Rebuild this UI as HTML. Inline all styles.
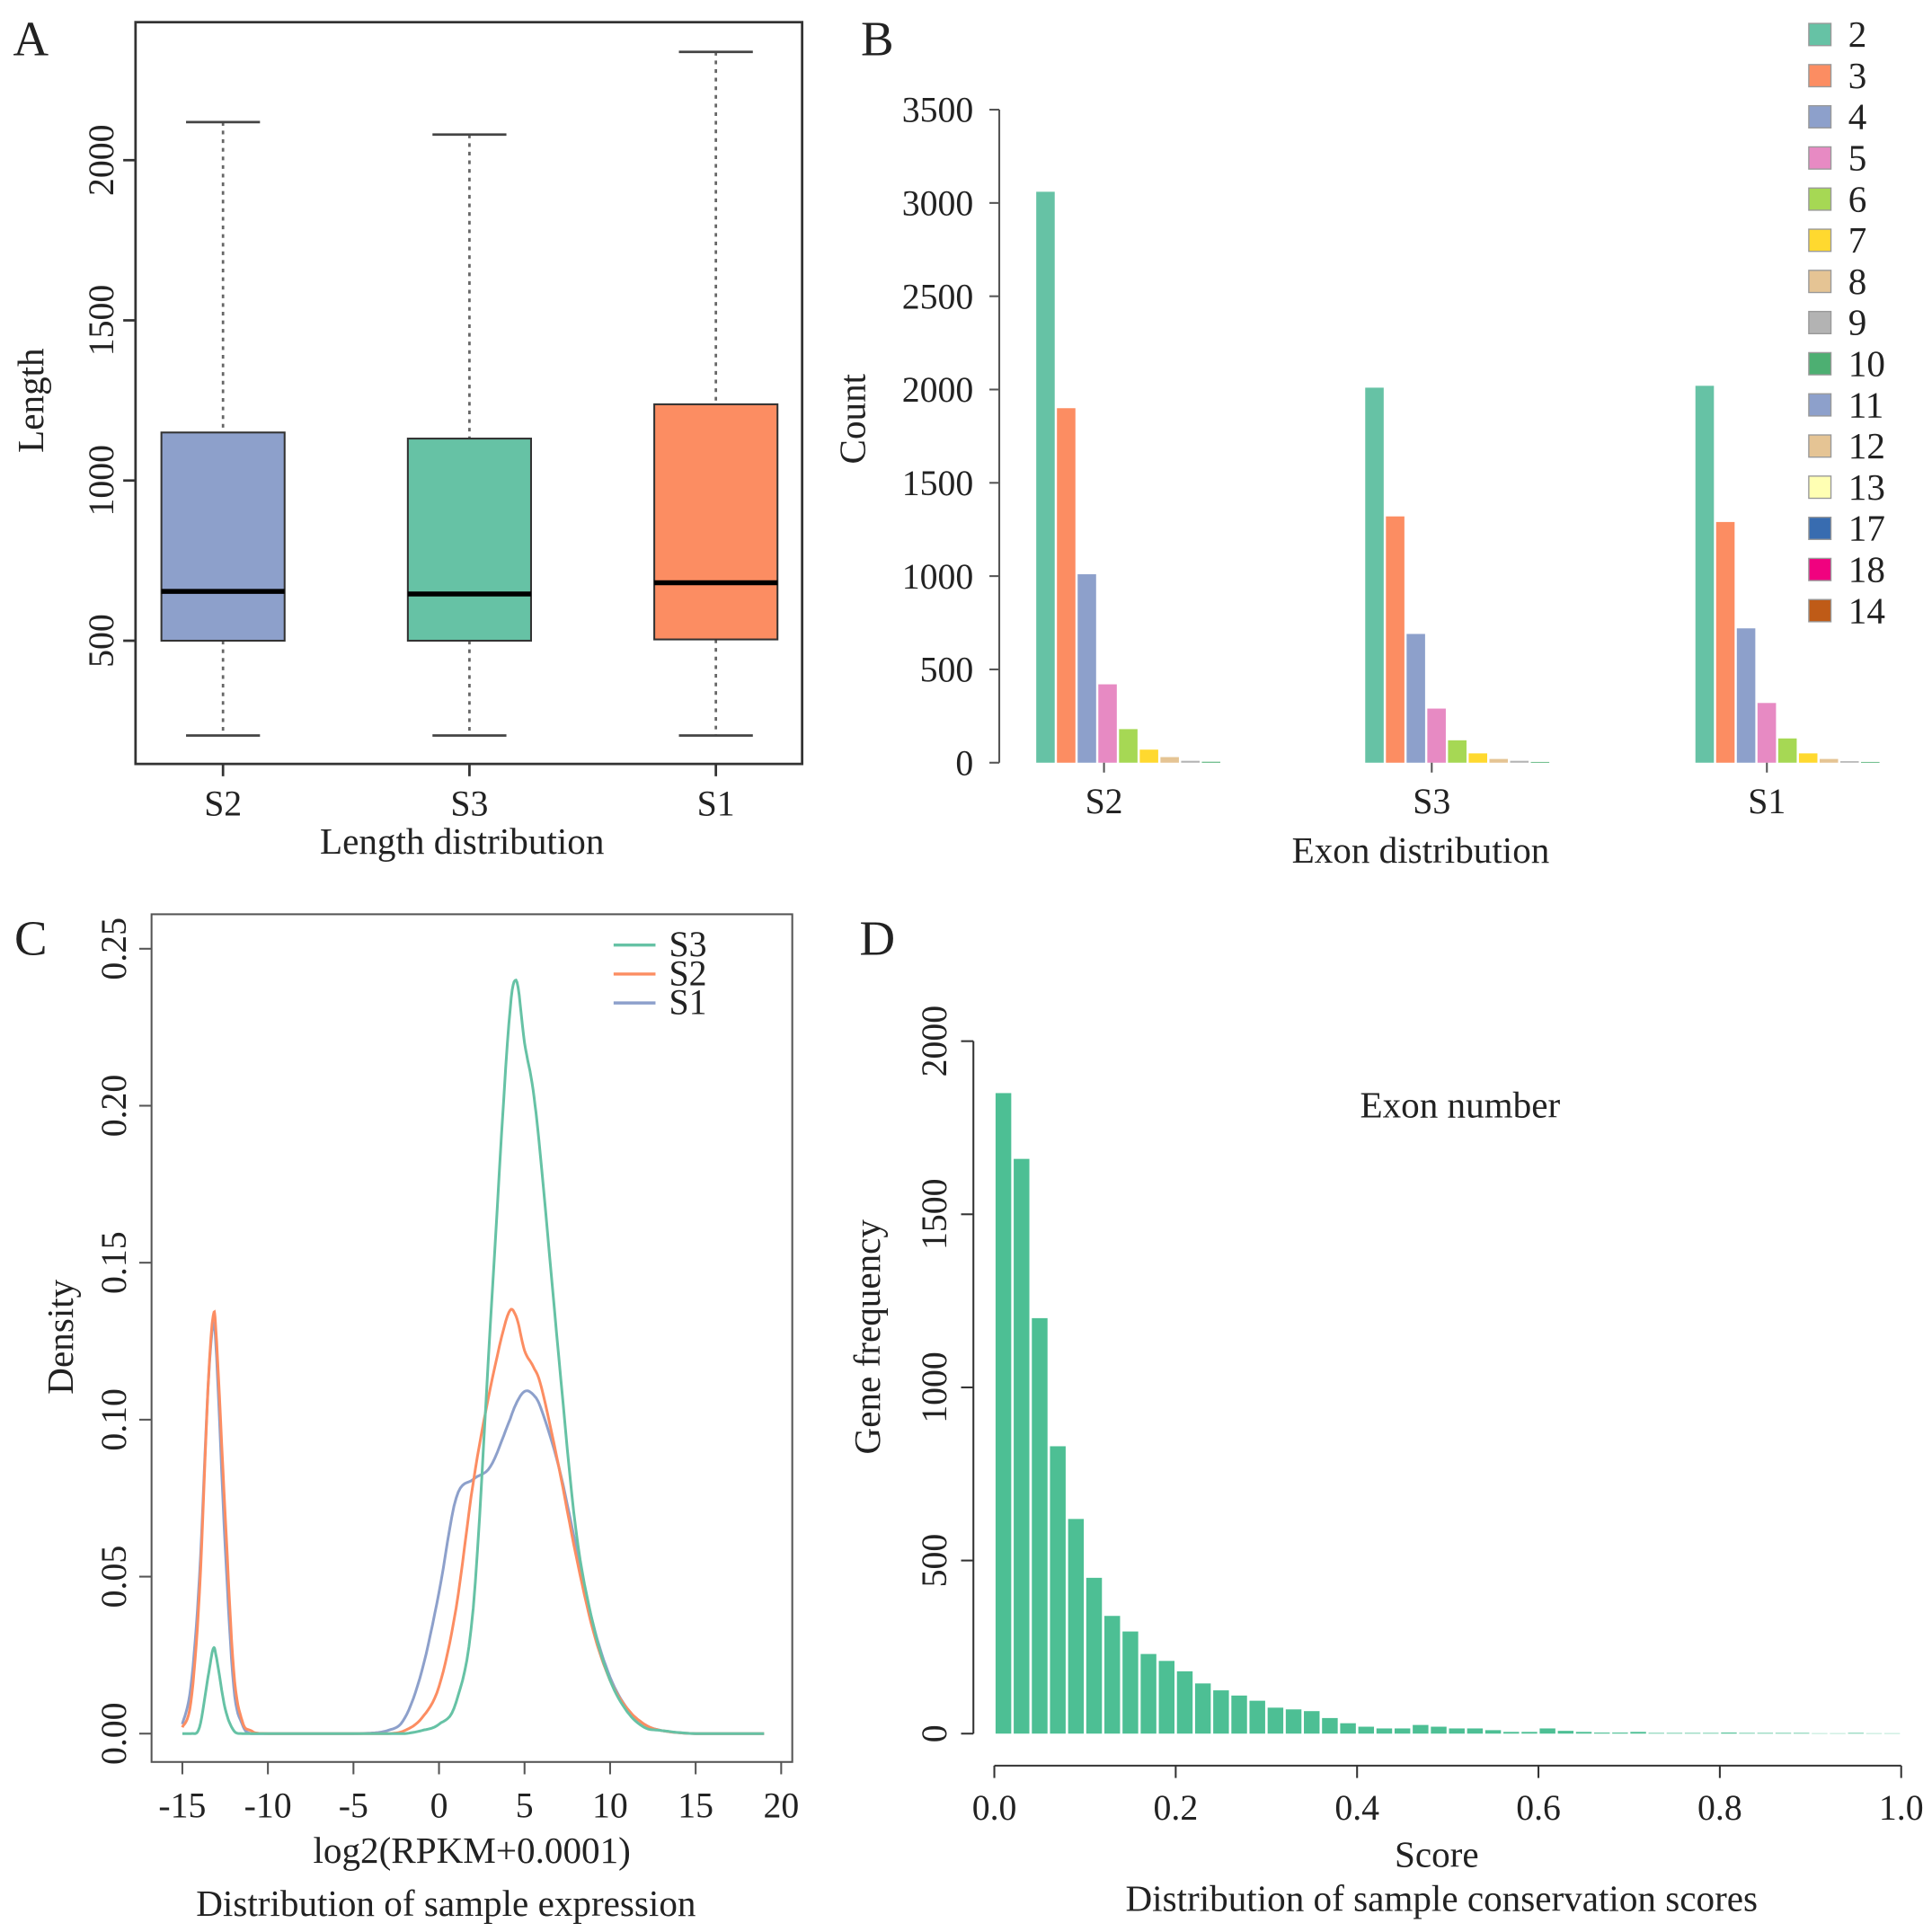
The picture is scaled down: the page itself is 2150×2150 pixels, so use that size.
<!DOCTYPE html>
<html><head><meta charset="utf-8"><style>
html,body{margin:0;padding:0;background:#fff;}
svg{display:block;font-family:"Liberation Serif",serif;}
</style></head><body>
<svg id="fig" width="2150" height="2150" viewBox="0 0 1568 1568" xmlns="http://www.w3.org/2000/svg">
<rect width="1568" height="1568" fill="#fff"/>
<g id="pA"></g>
<g id="pB"></g>
<g id="pC"></g>
<g id="pD"></g>
</svg>
<script>
// ---------- Panel A data ----------
const aCats = ["S2","S3","S1"];
const aMin = [204,204,204];
const aQ1 = [500,500,504];
const aMed = [654,646,681];
const aQ3 = [1150,1131,1238];
const aMax = [2119,2080,2338];
const aTicks = [500,1000,1500,2000];
// ---------- Panel B data ----------
const bCats = ["S2","S3","S1"];
const bSeries = ["2","3","4","5","6","7","8","9","10","11","12","13","17","18","14"];
const bVals2 = [3060,2010,2020];
const bVals3 = [1900,1320,1290];
const bVals4 = [1010,690,720];
const bVals5 = [420,290,320];
const bVals6 = [180,120,130];
const bVals7 = [70,50,50];
const bVals8 = [30,20,20];
const bVals9 = [10,10,8];
const bVals10 = [5,4,4];
const bTicks = [0,500,1000,1500,2000,2500,3000,3500];
// ---------- Panel C data ----------
const cX = [-15,-14.5,-14,-13.5,-13.2,-13,-12.5,-12,-11.5,-11,-10,-5,-3,-2,-1,0,1,2,3,4,4.5,5,5.5,6,7,8,9,10,11,12,13,15,19];
const cS3 = [0,0,0.002,0.018,0.027,0.024,0.008,0.001,0,0,0,0,0,0,0.001,0.003,0.01,0.04,0.13,0.22,0.24,0.22,0.205,0.18,0.12,0.065,0.035,0.017,0.007,0.002,0.001,0,0];
const cS2 = [0.002,0.01,0.045,0.11,0.133,0.125,0.07,0.02,0.004,0.001,0,0,0,0.001,0.005,0.015,0.04,0.08,0.11,0.133,0.133,0.122,0.117,0.11,0.085,0.057,0.033,0.017,0.008,0.003,0.001,0,0];
const cS1 = [0.003,0.015,0.05,0.11,0.13,0.12,0.06,0.015,0.003,0,0,0,0.001,0.005,0.02,0.045,0.075,0.081,0.085,0.098,0.105,0.109,0.108,0.103,0.085,0.06,0.035,0.018,0.008,0.003,0.001,0,0];
const cXTicks = [-15,-10,-5,0,5,10,15,20];
const cYTicks = [0,0.05,0.10,0.15,0.20,0.25];
// ---------- Panel D data ----------
const dVals = [1850,1660,1200,830,620,450,340,295,230,210,180,145,125,110,95,75,70,65,45,30,20,15,15,25,20,15,15,10,5,5,15,8,5,3,3,5,2,2,2,2,3,2,2,2,2,1,1,2,1,1];
const dXTicks = [0,0.2,0.4,0.6,0.8,1.0];
const dYTicks = [0,500,1000,1500,2000];

const NS="http://www.w3.org/2000/svg";
function mk(parent,tag,attrs,name,text){
  const e=document.createElementNS(NS,tag);
  for(const k in attrs)e.setAttribute(k,attrs[k]);
  
  
  if(text!==undefined)e.textContent=text;
  parent.appendChild(e);return e;
}
const FS=29;
const TS=30;
function label(p,x,y,t,name,opts){
  opts=opts||{};
  const a={x:x,y:y,'font-size':opts.fs||FS,'text-anchor':opts.anchor||'middle',fill:'#222'};
  if(opts.rot)a.transform='rotate(-90 '+x+' '+y+')';
  return mk(p,'text',a,name,t);
}
const svg=document.getElementById('fig');
label(svg,25,45,'A','panel-label-a',{fs:40});
label(svg,712,45,'B','panel-label-b',{fs:40});
label(svg,25,775,'C','panel-label-c',{fs:40});
label(svg,712,775,'D','panel-label-d',{fs:40});

// ---------- A ----------
(function(){
  const g=document.getElementById('pA');
  const y=v=>650-0.26*v;
  const cx=[181,381,581];
  const cols=["#8DA0CB","#66C2A5","#FC8D62"];
  mk(g,'rect',{x:110,y:18,width:541,height:602,fill:'none',stroke:'#333','stroke-width':2},'plot-frame');
  aCats.forEach((c,i)=>{
    mk(g,'line',{x1:cx[i],x2:cx[i],y1:y(aMax[i]),y2:y(aQ3[i]),stroke:'#666','stroke-width':2,'stroke-dasharray':'3,4'},'whisker-upper-'+c);
    mk(g,'line',{x1:cx[i],x2:cx[i],y1:y(aQ1[i]),y2:y(aMin[i]),stroke:'#666','stroke-width':2,'stroke-dasharray':'3,4'},'whisker-lower-'+c);
    mk(g,'line',{x1:cx[i]-30,x2:cx[i]+30,y1:y(aMax[i]),y2:y(aMax[i]),stroke:'#444','stroke-width':2},'cap-max-'+c);
    mk(g,'line',{x1:cx[i]-30,x2:cx[i]+30,y1:y(aMin[i]),y2:y(aMin[i]),stroke:'#444','stroke-width':2},'cap-min-'+c);
    mk(g,'rect',{x:cx[i]-50,y:y(aQ3[i]),width:100,height:y(aQ1[i])-y(aQ3[i]),fill:cols[i],stroke:'#333','stroke-width':1.5},'box-'+c);
    mk(g,'line',{x1:cx[i]-50,x2:cx[i]+50,y1:y(aMed[i]),y2:y(aMed[i]),stroke:'#000','stroke-width':4},'median-'+c);
    mk(g,'line',{x1:cx[i],x2:cx[i],y1:620,y2:630,stroke:'#333','stroke-width':2},'x-tick-'+c);
    label(g,cx[i],662,c,'x-tick-label-'+c);
  });
  aTicks.forEach(t=>{
    mk(g,'line',{x1:100,x2:110,y1:y(t),y2:y(t),stroke:'#333','stroke-width':2},'y-tick-'+t);
    label(g,92,y(t),String(t),'y-tick-label-'+t,{rot:1});
  });
  label(g,35,325,'Length','y-axis-title',{rot:1,fs:TS});
  label(g,375,693,'Length distribution','x-axis-title',{fs:TS});
})();

// ---------- B ----------
(function(){
  const g=document.getElementById('pB');
  const y=v=>619-v*530/3500;
  const cols=["#66C2A5","#FC8D62","#8DA0CB","#E78AC3","#A6D854","#FFD92F","#E5C494","#B3B3B3","#4DAF72","#8DA0CB","#E5C494","#FFFFB3","#386CB0","#F0027F","#BF5B17"];
  const starts=[841,1108,1376];
  const centers=[896,1162,1434];
  const all=[bVals2,bVals3,bVals4,bVals5,bVals6,bVals7,bVals8,bVals9,bVals10];
  mk(g,'line',{x1:811,x2:811,y1:89,y2:619,stroke:'#555','stroke-width':1.5},'y-axis-line');
  bTicks.forEach(t=>{
    mk(g,'line',{x1:803,x2:811,y1:y(t),y2:y(t),stroke:'#555','stroke-width':1.5},'y-tick-'+t);
    label(g,790,y(t)+10,String(t),'y-tick-label-'+t,{anchor:'end'});
  });
  bCats.forEach((c,i)=>{
    all.forEach((arr,s)=>{
      const v=arr[i];
      mk(g,'rect',{x:starts[i]+s*16.8,y:y(v),width:15,height:619-y(v),fill:cols[s]},'bar-'+c+'-exon-'+bSeries[s]);
    });
    mk(g,'line',{x1:centers[i],x2:centers[i],y1:619,y2:627,stroke:'#555','stroke-width':1.5},'x-tick-'+c);
    label(g,centers[i],660,c,'x-tick-label-'+c);
  });
  label(g,702,340,'Count','y-axis-title',{rot:1,fs:TS});
  label(g,1153,700,'Exon distribution','x-axis-title',{fs:TS});
  bSeries.forEach((s,i)=>{
    const yy=28+i*33.4;
    mk(g,'rect',{x:1468,y:yy-9,width:18,height:18,fill:cols[i],stroke:'#999','stroke-width':1},'legend-swatch-'+s);
    label(g,1500,yy+10,s,'legend-label-'+s,{anchor:'start',fs:30});
  });
})();

// ---------- C ----------
(function(){
  const g=document.getElementById('pC');
  const x=v=>148+(v+15)*13.886;
  const y=v=>1407-v*2548;
  mk(g,'rect',{x:123,y:742,width:520,height:688,fill:'none',stroke:'#555','stroke-width':1.5},'plot-frame');
  cXTicks.forEach(t=>{
    mk(g,'line',{x1:x(t),x2:x(t),y1:1430,y2:1440,stroke:'#555','stroke-width':1.5},'x-tick-'+t);
    label(g,x(t),1475,String(t),'x-tick-label-'+t);
  });
  cYTicks.forEach(t=>{
    mk(g,'line',{x1:113,x2:123,y1:y(t),y2:y(t),stroke:'#555','stroke-width':1.5},'y-tick-'+t);
    label(g,102,y(t),t.toFixed(2),'y-tick-label-'+t,{rot:1});
  });
  function path(ys){
    const P=cX.map((v,i)=>[x(v),y(ys[i])]);
    let d='M'+P[0][0]+','+P[0][1];
    for(let i=0;i<P.length-1;i++){
      const p0=P[Math.max(0,i-1)],p1=P[i],p2=P[i+1],p3=P[Math.min(P.length-1,i+2)];
      for(let k=1;k<=8;k++){
        const t=k/8,t2=t*t,t3=t2*t;
        const f=(a,b,c,e)=>0.5*((2*b)+(-a+c)*t+(2*a-5*b+4*c-e)*t2+(-a+3*b-3*c+e)*t3);
        let yy=f(p0[1],p1[1],p2[1],p3[1]);if(yy>1407)yy=1407;
        d+=' L'+f(p0[0],p1[0],p2[0],p3[0]).toFixed(1)+','+yy.toFixed(1);
      }
    }
    return d;
  }
  mk(g,'path',{d:path(cS1),fill:'none',stroke:'#8DA0CB','stroke-width':2.2},'line-s1');
  mk(g,'path',{d:path(cS2),fill:'none',stroke:'#FC8D62','stroke-width':2.2},'line-s2');
  mk(g,'path',{d:path(cS3),fill:'none',stroke:'#66C2A5','stroke-width':2.2},'line-s3');
  [['S3','#66C2A5'],['S2','#FC8D62'],['S1','#8DA0CB']].forEach((l,i)=>{
    const yy=767+i*23.5;
    mk(g,'line',{x1:498,x2:532,y1:yy,y2:yy,stroke:l[1],'stroke-width':2.5},'legend-line-'+l[0]);
    label(g,543,yy+9,l[0],'legend-label-'+l[0],{anchor:'start'});
  });
  label(g,59,1085,'Density','y-axis-title',{rot:1,fs:TS});
  label(g,383,1512,'log2(RPKM+0.0001)','x-axis-title',{fs:TS});
  label(g,362,1555,'Distribution of sample expression','x-axis-subtitle',{fs:TS});
})();

// ---------- D ----------
(function(){
  const g=document.getElementById('pD');
  const x=v=>807+v*736;
  const y=v=>1407-v*0.281;
  const bw=736/dVals.length;
  dVals.forEach((v,i)=>{
    mk(g,'rect',{x:x(i/dVals.length)+1,y:y(v),width:bw-2,height:1407-y(v),fill:'#4DBF94'},'hist-bar-'+i);
  });
  mk(g,'line',{x1:790,x2:790,y1:y(2000),y2:y(0),stroke:'#333','stroke-width':1.5},'y-axis-line');
  dYTicks.forEach(t=>{
    mk(g,'line',{x1:780,x2:790,y1:y(t),y2:y(t),stroke:'#333','stroke-width':1.5},'y-tick-'+t);
    label(g,768,y(t),String(t),'y-tick-label-'+t,{rot:1});
  });
  mk(g,'line',{x1:x(0),x2:x(1),y1:1433,y2:1433,stroke:'#333','stroke-width':1.5},'x-axis-line');
  dXTicks.forEach(t=>{
    mk(g,'line',{x1:x(t),x2:x(t),y1:1433,y2:1443,stroke:'#333','stroke-width':1.5},'x-tick-'+t);
    label(g,x(t),1477,t.toFixed(1),'x-tick-label-'+t);
  });
  label(g,1185,907,'Exon number','chart-title',{fs:TS});
  label(g,714,1085,'Gene frequency','y-axis-title',{rot:1,fs:TS});
  label(g,1166,1515,'Score','x-axis-title',{fs:TS});
  label(g,1170,1551,'Distribution of sample conservation scores','x-axis-subtitle',{fs:TS});
})();
</script>
</body></html>
